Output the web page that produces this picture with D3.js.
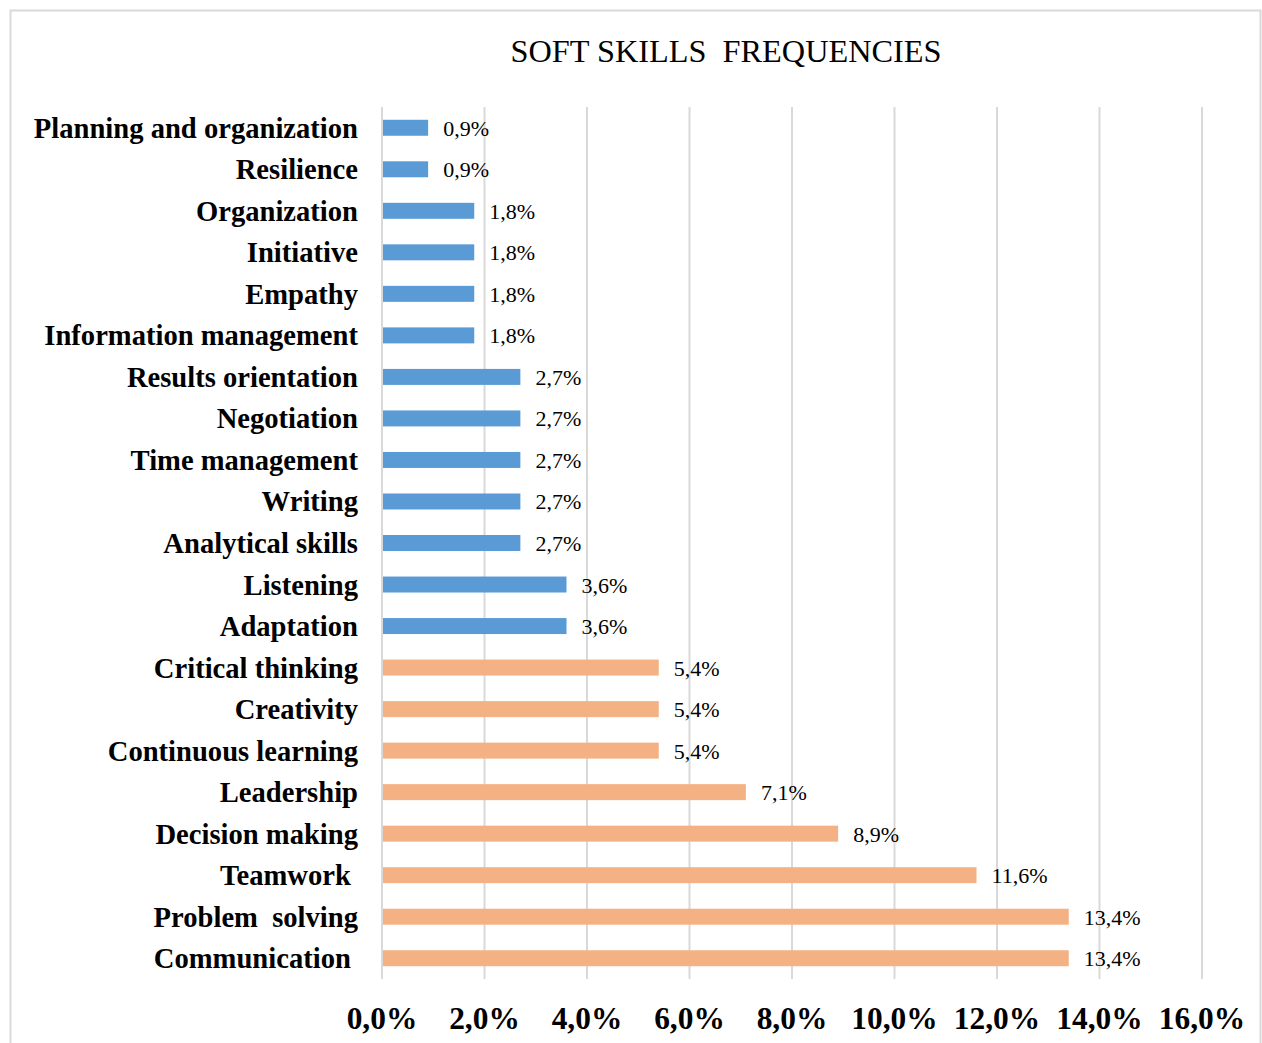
<!DOCTYPE html>
<html>
<head>
    <meta charset="utf-8" />
    <title>Soft skills frequencies</title>
    <script src="https://d3js.org/d3.v7.min.js"></script>
    <style>
        body { margin: 0; background: white; }
        text { font-family: "Liberation Serif", "Times New Roman", serif; white-space: pre; }
    </style>
</head>
<body>
    <div id="chart"></div>
    <script>
        // categories, top to bottom (trailing spaces as in the original)
        let skills = ["Planning and organization", "Resilience", "Organization", "Initiative", "Empathy",
            "Information management", "Results orientation", "Negotiation", "Time management", "Writing",
            "Analytical skills", "Listening", "Adaptation", "Critical thinking", "Creativity",
            "Continuous learning", "Leadership", "Decision making", "Teamwork ", "Problem  solving",
            "Communication "];
        let values = [0.9, 0.9, 1.8, 1.8, 1.8, 1.8, 2.7, 2.7, 2.7, 2.7, 2.7, 3.6, 3.6,
            5.4, 5.4, 5.4, 7.1, 8.9, 11.6, 13.4, 13.4];
        let group = ["low", "low", "low", "low", "low", "low", "low", "low", "low", "low", "low", "low", "low",
            "high", "high", "high", "high", "high", "high", "high", "high"];
        let ticks = [0, 2, 4, 6, 8, 10, 12, 14, 16];

        let width = 1262, height = 1043;
        let svg = d3.select("#chart").append("svg")
            .attr("width", width).attr("height", height);

        // outer frame
        svg.append("rect")
            .attr("x", 10.5).attr("y", 10.5)
            .attr("width", 1250).attr("height", 1040)
            .attr("fill", "none").attr("stroke", "#d9d9d9").attr("stroke-width", 2);

        svg.append("text")
            .attr("x", 726).attr("y", 62)
            .attr("text-anchor", "middle")
            .style("font-size", "32.3px")
            .text("SOFT SKILLS  FREQUENCIES");

        let x = d3.scaleLinear().domain([0, 16]).range([382, 1202]);
        let y = d3.scaleBand().domain(skills).range([107, 979])
            .paddingInner(0.615).paddingOuter(0.3075);
        let color = d3.scaleOrdinal().domain(["low", "high"]).range(["#5b9bd5", "#f4b183"]);

        // gridlines
        svg.append("g").selectAll("line")
            .data(ticks)
            .enter().append("line")
            .attr("x1", d => x(d)).attr("x2", d => x(d))
            .attr("y1", 107).attr("y2", 979)
            .attr("stroke", "#d9d9d9").attr("stroke-width", 2);

        // x tick labels
        svg.append("g").selectAll("text")
            .data(ticks)
            .enter().append("text")
            .attr("x", d => x(d)).attr("y", 1029)
            .attr("text-anchor", "middle")
            .style("font-size", "31.4px").style("font-weight", "bold")
            .text(d => d.toFixed(1).replace(".", ",") + "%");

        let rows = skills.map((s, i) => ({ skill: s, value: values[i], group: group[i] }));

        svg.append("g").selectAll("rect")
            .data(rows)
            .enter().append("rect")
            .attr("x", x(0) + 1)
            .attr("y", d => y(d.skill))
            .attr("width", d => x(d.value) - x(0) - 1)
            .attr("height", y.bandwidth())
            .attr("fill", d => color(d.group));

        // value labels
        svg.append("g").selectAll("text")
            .data(rows)
            .enter().append("text")
            .attr("x", d => x(d.value) + 15)
            .attr("y", d => y(d.skill) + y.bandwidth() / 2 + 8)
            .style("font-size", "22px")
            .text(d => d.value.toFixed(1).replace(".", ",") + "%");

        // category labels
        svg.append("g").selectAll("text")
            .data(rows)
            .enter().append("text")
            .attr("x", 358)
            .attr("y", d => y(d.skill) + y.bandwidth() / 2 + 10)
            .attr("text-anchor", "end")
            .style("font-size", "28.6px").style("font-weight", "bold")
            .text(d => d.skill);
    </script>
</body>
</html>
